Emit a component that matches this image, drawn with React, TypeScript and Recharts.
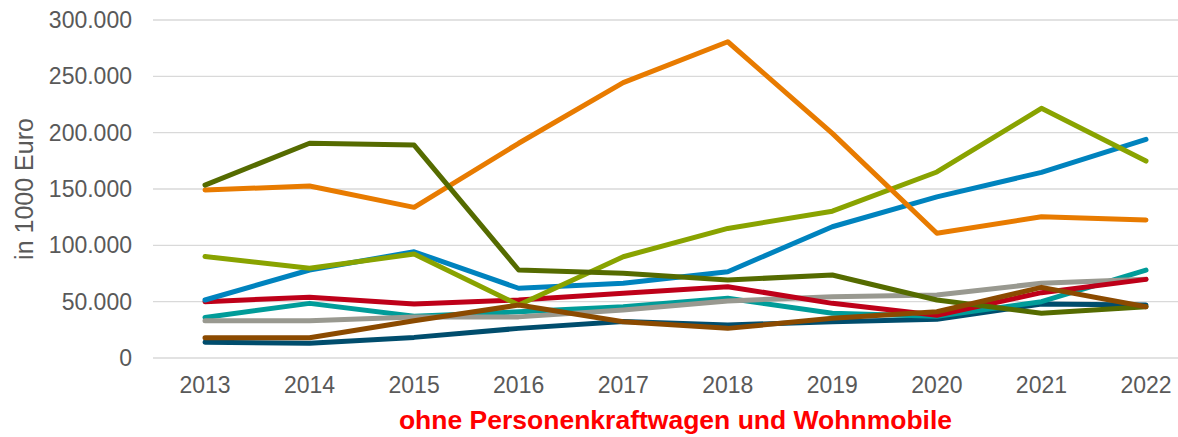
import { CartesianGrid, Line, LineChart, XAxis, YAxis } from "recharts";

const years = ["2013", "2014", "2015", "2016", "2017", "2018", "2019", "2020", "2021", "2022"];

const darkBlue = [14000, 13000, 18300, 26300, 32500, 29300, 32200, 34300, 48000, 47000];
const teal = [36000, 48500, 37000, 41000, 45500, 53000, 39700, 37000, 50000, 78000];
const gray = [33000, 33000, 36500, 36500, 42600, 50600, 54400, 56000, 66300, 69800];
const red = [50000, 53900, 48000, 51500, 57400, 63300, 48500, 38000, 58000, 69800];
const blue = [51500, 78100, 94300, 61900, 66300, 76600, 116500, 143000, 164800, 194000];
const lime = [90000, 79600, 92300, 47000, 89900, 115000, 130300, 165100, 221600, 174800];
const orange = [149100, 152600, 133700, 190600, 244400, 280700, 199400, 110700, 125400, 122500];
const olive = [153500, 190600, 189000, 78100, 75200, 69200, 73700, 51500, 39700, 45500];
const brown = [18000, 18000, 33000, 47000, 32200, 26300, 35200, 41000, 62700, 45500];

const yTicks = [0, 50000, 100000, 150000, 200000, 250000, 300000];

const series = [
  { key: "darkBlue", values: darkBlue, color: "#004D6D" },
  { key: "teal", values: teal, color: "#009C99" },
  { key: "gray", values: gray, color: "#999990" },
  { key: "red", values: red, color: "#BE0019" },
  { key: "blue", values: blue, color: "#0083BE" },
  { key: "lime", values: lime, color: "#89A300" },
  { key: "orange", values: orange, color: "#E87B00" },
  { key: "olive", values: olive, color: "#556B00" },
  { key: "brown", values: brown, color: "#8B4A00" },
];

const data = years.map((year, i) => {
  const row: Record<string, string | number> = { year };
  series.forEach((s) => {
    row[s.key] = s.values[i];
  });
  return row;
});

const formatDe = (v: number) => String(v).replace(/\B(?=(\d{3})+(?!\d))/g, ".");

const font = "'Liberation Sans', Arial, sans-serif";

function YTitle(props: any) {
  const vb = props.viewBox;
  const cx = 24;
  const cy = vb.y + vb.height / 2;
  return (
    <text
      x={cx}
      y={cy}
      transform={`rotate(-90 ${cx} ${cy})`}
      textAnchor="middle"
      dominantBaseline="central"
      fill="#595959"
      fontSize={25}
      fontFamily={font}
    >
      in 1000 Euro
    </text>
  );
}

export default function App() {
  return (
    <div style={{ position: "absolute", left: 0, top: 0, width: 1178, height: 437, overflow: "hidden", background: "#fff" }}>
      <LineChart width={1198} height={437} data={data} margin={{ top: 20, right: 0, bottom: 0, left: 0 }}>
        <CartesianGrid vertical={false} stroke="#D9D9D9" strokeWidth={1.3} />
        <XAxis
          dataKey="year"
          height={79}
          padding={{ left: 52, right: 52 }}
          tickLine={false}
          axisLine={false}
          tickSize={0}
          tickMargin={19}
          interval={0}
          tick={{ fill: "#595959", fontSize: 23, fontFamily: font }}
          label={{
            value: "ohne Personenkraftwagen und Wohnmobile",
            position: "insideBottom",
            offset: 8,
            fill: "#FF0000",
            fontSize: 26.5,
            fontWeight: "bold",
            fontFamily: font,
          }}
        />
        <YAxis
          width={153}
          domain={[0, 300000]}
          ticks={yTicks}
          tickFormatter={formatDe}
          tickLine={false}
          axisLine={false}
          tickSize={0}
          tickMargin={21}
          tick={{ fill: "#595959", fontSize: 23, fontFamily: font }}
          label={<YTitle />}
        />
        {series.map((s) => (
          <Line
            key={s.key}
            dataKey={s.key}
            stroke={s.color}
            strokeWidth={5}
            strokeLinecap="round"
            strokeLinejoin="round"
            dot={false}
            activeDot={false}
            isAnimationActive={false}
          />
        ))}
      </LineChart>
    </div>
  );
}
